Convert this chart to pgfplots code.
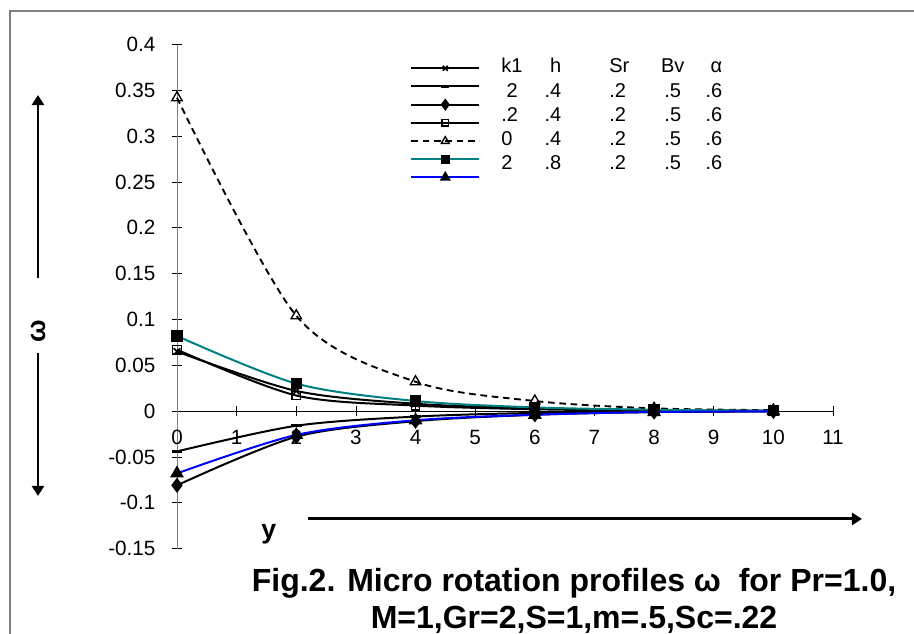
\documentclass[border=0pt]{standalone}
\usepackage{fontspec}
\setmainfont{Liberation Sans}
\usepackage{pgfplots}
\pgfplotsset{compat=1.18}
\usetikzlibrary{arrows.meta}
\definecolor{tealline}{RGB}{0,128,128}
\definecolor{blueline}{RGB}{0,0,255}
\definecolor{framegray}{RGB}{128,128,128}

\newcommand{\tickfont}{\fontsize{15.5}{18}\selectfont}
% text table beside the legend: k1, h, Sr, Bv, alpha
\newcommand{\lrow}[5]{\makebox[29.25pt][l]{#1}\makebox[15.75pt][r]{#2}\hspace{36pt}\makebox[38.25pt][l]{#3}\makebox[18.75pt][c]{#4}\makebox[27.75pt][r]{#5}}

\begin{document}
\begin{tikzpicture}
\begin{axis}[
    scale only axis,
    width=492pt, height=378pt,
    xmin=0, xmax=11, ymin=-0.15, ymax=0.4,
    axis lines=middle,
    x axis line style={-, black, line width=0.6pt},
    y axis line style={-, framegray, line width=0.6pt},
    xtick={0,1,2,3,4,5,6,7,8,9,10,11},
    xticklabels={0,1,2,3,4,5,6,7,8,9,10,11},
    ytick={-0.15,-0.1,-0.05,0,0.05,0.1,0.15,0.2,0.25,0.3,0.35,0.4},
    yticklabels={-0.15,-0.1,-0.05,0,0.05,0.1,0.15,0.2,0.25,0.3,0.35,0.4},
    hide obscured x ticks=false, hide obscured y ticks=false,
    tick align=center, major tick length=8pt,
    tick style={black, line width=0.6pt},
    xticklabel style={font=\tickfont, inner sep=0pt, anchor=north, yshift=-10pt},
    yticklabel style={font=\tickfont, inner sep=0pt, anchor=east, xshift=-12pt},
    clip=false,
    legend style={at={(axis cs:3.907,0.3843)}, anchor=north west,
        draw=none, fill=none, inner sep=0pt, row sep=0pt,
        nodes={inner sep=0pt, text height=10.2pt, text depth=3.45pt}},
    legend image code/.code={\draw[mark repeat=2,mark phase=2,#1,every mark/.append style={scale=0.75}] plot coordinates {(0pt,0pt) (25.5pt,0pt) (51pt,0pt)};},
]
\addplot[black, line width=1.5pt, smooth, mark=x, mark size=3.5pt, mark options={solid, line width=1.2pt}]
    coordinates {(0,0.065) (2,0.022) (4,0.008) (6,0.003) (8,0.001) (10,0.0002)};
\addlegendentry{}
\addplot[black, line width=1.5pt, smooth, mark=-, mark size=4pt, mark options={solid, line width=2pt}]
    coordinates {(0,-0.044) (2,-0.016) (4,-0.006) (6,-0.002) (8,-0.001) (10,-0.0002)};
\addlegendentry{}
\addplot[black, line width=1.5pt, smooth, mark=diamond*, mark size=4.5pt, mark options={solid, fill=black}]
    coordinates {(0,-0.081) (2,-0.028) (4,-0.011) (6,-0.004) (8,-0.001) (10,-0.0003)};
\addlegendentry{}
\addplot[black, line width=1.5pt, smooth, mark=square, mark size=3.2pt, mark options={solid, fill=white, line width=1pt}]
    coordinates {(0,0.067) (2,0.017) (4,0.006) (6,0.002) (8,0.0005) (10,0.0001)};
\addlegendentry{}
\addplot[black, line width=1.4pt, smooth, dash pattern=on 5pt off 3.5pt, mark=triangle, mark size=4.5pt, mark options={solid, fill=white, line width=1pt}]
    coordinates {(0,0.342) (2,0.104) (4,0.032) (6,0.011) (8,0.003) (10,0.001)};
\addlegendentry{}
\addplot[tealline, line width=1.5pt, smooth, mark=square*, mark size=3.5pt, mark options={solid, draw=black, fill=black}]
    coordinates {(0,0.082) (2,0.030) (4,0.011) (6,0.004) (8,0.0015) (10,0.0003)};
\addlegendentry{}
\addplot[blueline, line width=1.5pt, smooth, mark=triangle*, mark size=4.5pt, mark options={solid, draw=black, fill=black}]
    coordinates {(0,-0.068) (2,-0.026) (4,-0.010) (6,-0.004) (8,-0.001) (10,-0.0003)};
\addlegendentry{}

\coordinate (bl) at (axis cs:-2.968,-0.2432);
\coordinate (tr) at (axis cs:12.358,0.4486);
% parameter table
\begin{scope}[every node/.style={anchor=base west, inner sep=0pt, font=\fontsize{15}{17}\selectfont}]
\node at (axis cs:5.433,0.3692) {\lrow{k1}{h}{Sr}{Bv}{α}};
\node at (axis cs:5.433,0.3427) {\lrow{\hspace{4pt}2}{.4}{.2}{.5}{.6}};
\node at (axis cs:5.433,0.3162) {\lrow{.2}{.4}{.2}{.5}{.6}};
\node at (axis cs:5.433,0.2897) {\lrow{0}{.4}{.2}{.5}{.6}};
\node at (axis cs:5.433,0.2633) {\lrow{2}{.8}{.2}{.5}{.6}};
\end{scope}
\draw[framegray, line width=1.1pt] (axis cs:-2.800,-0.3) -- (axis cs:-2.800,0.4366) -- (axis cs:13,0.4366);
\draw[line width=2.2pt, -{Triangle[length=7.5pt,width=9pt]}] (axis cs:-2.331,0.1452) -- (axis cs:-2.331,0.3449);
\draw[line width=2.2pt, -{Triangle[length=7.5pt,width=9pt]}] (axis cs:-2.331,0.0634) -- (axis cs:-2.331,-0.0926);
\draw[line width=2.2pt, -{Triangle[length=7.5pt,width=9pt]}] (axis cs:2.197,-0.1177) -- (axis cs:11.486,-0.1177);
\node[rotate=90, font=\bfseries\fontsize{20}{20}\selectfont] at (axis cs:-2.331,0.0874) {ω};
\node[font=\bfseries\fontsize{20}{20}\selectfont] at (axis cs:1.538,-0.1341) {y};
\node[anchor=base, font=\bfseries\fontsize{24}{28}\selectfont] at (axis cs:6.657,-0.1974) {Fig.2. Micro rotation profiles ω\ \ for Pr=1.0,};
\node[anchor=base, font=\bfseries\fontsize{24}{28}\selectfont] at (axis cs:6.657,-0.2377) {M=1,Gr=2,S=1,m=.5,Sc=.22};
\end{axis}
\pgfresetboundingbox
\useasboundingbox (bl) rectangle (tr);
\end{tikzpicture}
\end{document}
